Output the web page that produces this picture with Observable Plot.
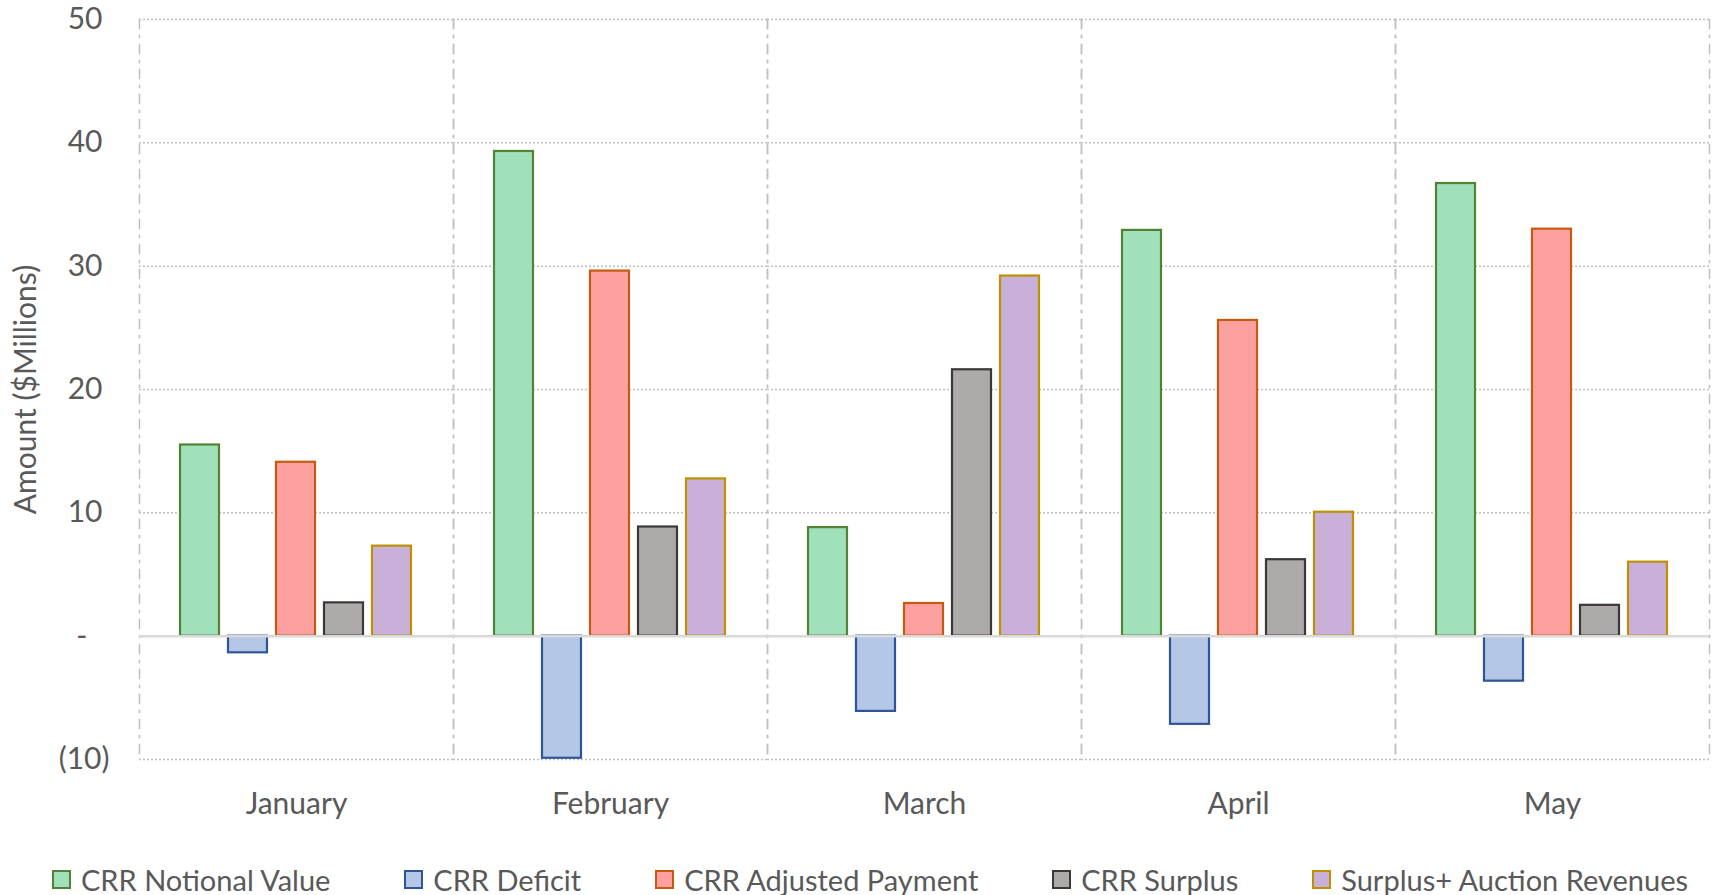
<!DOCTYPE html>
<html>
<head>
<meta charset="utf-8">
<script src="https://cdn.jsdelivr.net/npm/d3@7"></script>
<script src="https://cdn.jsdelivr.net/npm/@observablehq/plot@0.6"></script>
<style>
  html, body { margin: 0; padding: 0; background: #fff; }
  body { width: 1715px; height: 895px; overflow: hidden; font-family: Lato, "Open Sans", sans-serif; }
  #legend { display: flex; justify-content: space-between; align-items: center;
            margin: 14px 0 0 52px; width: 1636px; height: 30px; color: #595959; font-size: 29px; }
  .item { display: flex; align-items: center; white-space: nowrap; }
  .sw { width: 15px; height: 15px; border: 2px solid; margin-right: 10px; }
</style>
</head>
<body>
<div id="chart"></div>
<div id="legend"></div>
<script>
const months = ["January", "February", "March", "April", "May"];
const seriesNames = ["CRR Notional Value", "CRR Deficit", "CRR Adjusted Payment", "CRR Surplus", "Surplus+ Auction Revenues"];
const notionalValue = [15.5, 39.3, 8.8, 32.9, 36.7];
const deficit = [-1.35, -9.9, -6.1, -7.15, -3.65];
const adjustedPayment = [14.1, 29.6, 2.65, 25.6, 33.0];
const surplus = [2.7, 8.85, 21.6, 6.2, 2.5];
const surplusAuction = [7.3, 12.75, 29.2, 10.05, 6.0];
const fills = ["#a0e1bb", "#b4c7e7", "#ffa0a0", "#aeaaaa", "#c9b0d8"];
const strokes = ["#548235", "#2f5597", "#c55a11", "#3b3838", "#bf9000"];
const positiveTicks = [10, 20, 30, 40, 50];
const zeroTick = [0];
const negativeTicks = [-10];

const seriesValues = [notionalValue, deficit, adjustedPayment, surplus, surplusAuction];
const textColor = "#595959";
const font = "Lato, 'Open Sans', sans-serif";

const barMarks = seriesNames.map((name, i) =>
  Plot.barY(months.map((m, j) => ({month: m, series: name, value: seriesValues[i][j]})), {
    fx: "month", x: "series", y: "value",
    fill: fills[i], stroke: strokes[i], strokeWidth: 2.2
  })
);

const axisCommon = {tickSize: 0, tickPadding: 30, fontSize: 30, fill: textColor};

const chart = Plot.plot({
  width: 1715,
  height: 850,
  marginLeft: 139,
  marginRight: 6,
  marginTop: 19,
  marginBottom: 91,
  style: {fontFamily: font, color: textColor, background: "#fff"},
  fx: {domain: months, padding: 0, label: null},
  x: {domain: seriesNames, paddingInner: 0.18, paddingOuter: 0.855, axis: null},
  y: {domain: [-10, 50]},
  marks: [
    Plot.gridY([...negativeTicks, ...positiveTicks], {stroke: "#c0c0c0", strokeOpacity: 1, strokeWidth: 1.5, strokeDasharray: "2,2"}),
    Plot.frame({anchor: "left", stroke: "#c0c0c0", strokeWidth: 1.5, strokeDasharray: "9,7,2,7"}),
    Plot.frame({anchor: "right", stroke: "#c0c0c0", strokeWidth: 1.5, strokeDasharray: "9,7,2,7"}),
    ...barMarks,
    Plot.ruleY([0], {stroke: "#d9d9d9", strokeWidth: 2.5}),
    Plot.axisY(positiveTicks, {...axisCommon, dx: -7, tickFormat: d => `${d}`,
      label: "Amount ($Millions)", labelAnchor: "center", labelOffset: 125, labelArrow: "none"}),
    Plot.axisY(zeroTick, {...axisCommon, dx: -22, tickFormat: () => "-", label: null}),
    Plot.axisY(negativeTicks, {...axisCommon, tickFormat: d => `(${-d})`, label: null}),
    Plot.axisFx({anchor: "bottom", tickSize: 0, tickPadding: 33, fontSize: 30, fill: textColor, label: null})
  ]
});
document.getElementById("chart").appendChild(chart);

const legend = document.getElementById("legend");
seriesNames.forEach((name, i) => {
  const item = document.createElement("div");
  item.className = "item";
  const sw = document.createElement("span");
  sw.className = "sw";
  sw.style.background = fills[i];
  sw.style.borderColor = strokes[i];
  const label = document.createElement("span");
  label.textContent = name;
  item.appendChild(sw);
  item.appendChild(label);
  legend.appendChild(item);
});
</script>
</body>
</html>
